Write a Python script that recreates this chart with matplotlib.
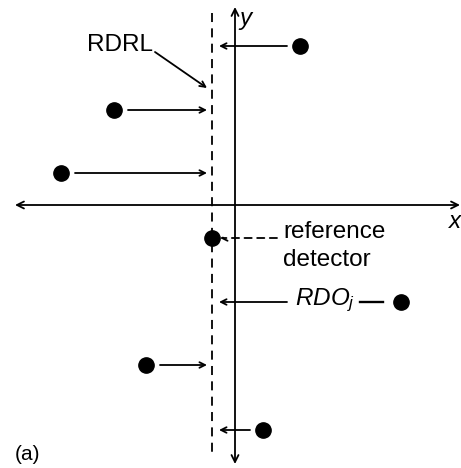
import matplotlib.pyplot as plt

plt.rcParams['font.family'] = ['Liberation Sans', 'DejaVu Sans']
plt.rcParams['mathtext.fontset'] = 'custom'
plt.rcParams['mathtext.it'] = 'Liberation Sans:italic'
plt.rcParams['mathtext.rm'] = 'Liberation Sans'

# detector positions relative to the origin
det_x = [65, -121, -174, 166, -89, 28]
det_y = [159, 95, 32, -97, -160, -225]
ref_x, ref_y = -23, -33   # reference detector sits on the RDRL
rdrl_x = -23

fig = plt.figure(figsize=(4.61, 4.68), dpi=100)
ax = fig.add_axes([0, 0, 1, 1])
ax.set_xlim(-235, 226)
ax.set_ylim(-263, 205)
ax.axis('off')

lw = 1.3
axis_arrow = dict(arrowstyle='<->,head_length=0.5,head_width=0.25', lw=lw, color='black',
                  shrinkA=0, shrinkB=0)
ax.annotate('', xy=(-220, 0), xytext=(225, 0), arrowprops=axis_arrow)
ax.annotate('', xy=(0, 198), xytext=(0, -259), arrowprops=axis_arrow)
ax.text(220, -17, 'x', fontsize=17.5, style='italic', ha='center', va='center')
ax.text(10, 187, 'y', fontsize=17.5, style='italic', ha='center', va='center')

# reference detector reference line
ax.plot([rdrl_x, rdrl_x], [192, -251], color='black', lw=lw, ls=(0, (5, 3.5)))
ax.text(-115, 160, 'RDRL', fontsize=17.5, ha='center', va='center')
ax.annotate('', xy=(-28, 117), xytext=(-80, 153),
            arrowprops=dict(arrowstyle='->,head_length=0.4,head_width=0.2', lw=lw,
                            color='black', shrinkA=0, shrinkB=0))

# detectors and their offsets to the RDRL
ax.plot(det_x, det_y, 'o', color='black', ms=11)
ax.plot([ref_x], [ref_y], 'o', color='black', ms=11)

head = dict(arrowstyle='->,head_length=0.4,head_width=0.2', lw=lw, color='black',
            shrinkA=0, shrinkB=0)
for x, y in zip(det_x, det_y):
    if x > rdrl_x:
        end = rdrl_x + 7
        start = x - 13
        if x > 100:
            start = 52
    else:
        end = rdrl_x - 5
        start = x + 14
    ax.annotate('', xy=(end, y), xytext=(start, y), arrowprops=head)

ax.annotate('', xy=(rdrl_x + 8, ref_y), xytext=(42, ref_y),
            arrowprops=dict(head, linestyle=(0, (4, 3))))
ax.text(48, -27, 'reference', fontsize=17.5, ha='left', va='center')
ax.text(48, -55, 'detector', fontsize=17.5, ha='left', va='center')

ax.text(60, -95, r'$RDO_j$', fontsize=17.5, ha='left', va='center')
ax.plot([125, 148], [-97, -97], color='black', lw=lw + 0.4)

ax.text(-220, -249, '(a)', fontsize=15, ha='left', va='center')

fig.savefig('out.png', dpi=100, facecolor='white')
